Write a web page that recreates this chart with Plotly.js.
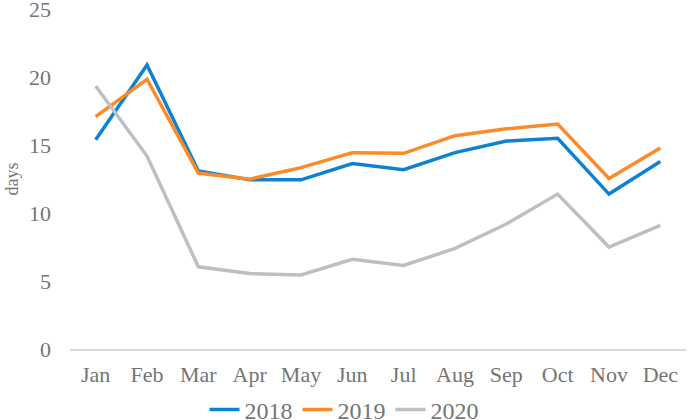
<!DOCTYPE html>
<html>
<head>
<meta charset="utf-8">
<script src="https://cdn.plot.ly/plotly-3.0.1.min.js"></script>
<style>html,body{margin:0;padding:0;background:#fff;}#chart{width:688px;height:420px;}</style>
</head>
<body>
<div id="chart"></div>
<script>
const months = ["Jan","Feb","Mar","Apr","May","Jun","Jul","Aug","Sep","Oct","Nov","Dec"];
const days2018 = [15.4, 20.9, 13.1, 12.45, 12.45, 13.65, 13.2, 14.45, 15.3, 15.5, 11.4, 13.8];
const days2019 = [17.1, 19.85, 12.95, 12.5, 13.35, 14.45, 14.4, 15.7, 16.2, 16.55, 12.55, 14.8];
const days2020 = [19.35, 14.2, 6.05, 5.55, 5.45, 6.6, 6.15, 7.4, 9.2, 11.4, 7.5, 9.1];
const seriesNames = ["2018","2019","2020"];
const yTicks = [0, 5, 10, 15, 20, 25];

const colors = ["#0d82d3", "#fd8a28", "#bfbfbf"];
const allData = [days2018, days2019, days2020];
const traces = allData.map((d, i) => ({
  type: "scatter",
  mode: "lines",
  x: months,
  y: d,
  name: seriesNames[i],
  line: {color: colors[i], width: 3.5}
}));

const serif = "Liberation Serif";
const tickFont = {family: serif, size: 22, color: "#757575"};

const layout = {
  width: 688,
  height: 420,
  font: {family: serif, color: "#757575"},
  margin: {l: 70, r: 2, t: 9, b: 71},
  paper_bgcolor: "#ffffff",
  plot_bgcolor: "#ffffff",
  showlegend: true,
  legend: {
    orientation: "h",
    xref: "container",
    x: 0.5,
    xanchor: "center",
    yref: "container",
    y: 0.024,
    yanchor: "middle",
    font: {family: serif, size: 24, color: "#757575"},
    itemwidth: 30,
    tracegroupgap: 0,
    traceorder: "normal"
  },
  xaxis: {
    type: "category",
    range: [-0.5, 11.5],
    showgrid: false,
    zeroline: false,
    showline: true,
    linecolor: "#d9d9d9",
    linewidth: 1.5,
    ticks: "",
    tickfont: tickFont,
    ticklabelstandoff: 5,
    ticklabeloverflow: "allow",
    fixedrange: true
  },
  yaxis: {
    range: [0, 25.02],
    tickmode: "array",
    tickvals: yTicks,
    ticktext: yTicks.map(String),
    showgrid: false,
    zeroline: false,
    showline: false,
    ticks: "",
    tickfont: tickFont,
    ticklabelstandoff: 18,
    ticklabeloverflow: "allow",
    title: {text: "days", font: {family: serif, size: 18, color: "#757575"}, standoff: 5},
    fixedrange: true
  }
};

Plotly.newPlot("chart", traces, layout, {displayModeBar: false, staticPlot: true});
</script>
</body>
</html>
